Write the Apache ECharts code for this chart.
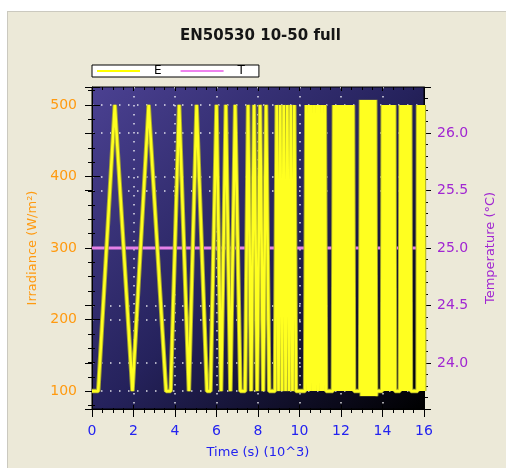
<!DOCTYPE html>
<html>
<head>
<meta charset="utf-8">
<script src="https://cdn.jsdelivr.net/npm/echarts@6/dist/echarts.min.js"></script>
<style>
  html, body { margin: 0; padding: 0; background: #fff; }
  #frame {
    position: absolute; left: 7px; top: 11px; width: 499px; height: 457px;
    background: #ece9d8; border-left: 1px solid #cbc9bf; border-top: 1px solid #cbc9bf;
    box-sizing: border-box;
  }
  #chart { position: absolute; left: 0; top: 0; width: 506px; height: 468px; }
</style>
</head>
<body>
<div id="frame"></div>
<div id="chart"></div>
<script>
// irradiance E (W/m²) turning points [time 10^3 s, value]
const irradiance = [
  // 0.5 W/m²/s
  [0, 100], [0.30, 100], [1.10, 500], [1.95, 100], [2.73, 500], [3.57, 100], [3.79, 100],
  // 1 W/m²/s
  [4.20, 500], [4.67, 100], [5.04, 500], [5.54, 100], [5.71, 100],
  // 2 W/m²/s
  [6.00, 500], [6.22, 100], [6.45, 500], [6.67, 100], [6.90, 500], [7.15, 100], [7.38, 100],
  // 3 W/m²/s
  [7.52, 500], [7.67, 100], [7.81, 500], [7.96, 100], [8.10, 500], [8.25, 100], [8.39, 500], [8.54, 100], [8.82, 100],
  // 5 W/m²/s
  [8.90, 500], [8.99, 100], [9.07, 500], [9.16, 100], [9.24, 500], [9.33, 100], [9.41, 500], [9.50, 100],
  [9.58, 500], [9.66, 100], [9.75, 500], [9.83, 100], [10.27, 100],
  // 7 W/m²/s
  [10.33, 500], [10.40, 100], [10.46, 500], [10.52, 100], [10.58, 500], [10.65, 100], [10.71, 500], [10.77, 100],
  [10.84, 500], [10.90, 100], [10.96, 500], [11.03, 100], [11.09, 500], [11.15, 100], [11.22, 500], [11.28, 100], [11.61, 100],
  // 10 W/m²/s
  [11.66, 500], [11.71, 100], [11.76, 500], [11.81, 100], [11.87, 500], [11.92, 100], [11.97, 500], [12.02, 100],
  [12.07, 500], [12.12, 100], [12.17, 500], [12.22, 100], [12.27, 500], [12.32, 100], [12.38, 500], [12.43, 100],
  [12.48, 500], [12.53, 100], [12.58, 500], [12.63, 100], [12.92, 100],
  // 14 W/m²/s (overshoot)
  [12.96, 507], [13.00, 93], [13.04, 507], [13.08, 93], [13.11, 507], [13.15, 93], [13.19, 507], [13.23, 93],
  [13.27, 507], [13.31, 93], [13.34, 507], [13.38, 93], [13.42, 507], [13.46, 93], [13.50, 507], [13.54, 93],
  [13.58, 507], [13.61, 93], [13.65, 507], [13.69, 93], [13.71, 100], [13.98, 100],
  // 20 W/m²/s
  [14.01, 500], [14.04, 100], [14.07, 500], [14.10, 100], [14.14, 500], [14.17, 100], [14.20, 500], [14.23, 100],
  [14.26, 500], [14.29, 100], [14.32, 500], [14.35, 100], [14.38, 500], [14.41, 100], [14.44, 500], [14.48, 100],
  [14.51, 500], [14.54, 100], [14.57, 500], [14.60, 100], [14.84, 100],
  // 30 W/m²/s
  [14.87, 500], [14.89, 100], [14.92, 500], [14.95, 100], [14.97, 500], [15.00, 100], [15.02, 500], [15.05, 100],
  [15.08, 500], [15.10, 100], [15.13, 500], [15.16, 100], [15.18, 500], [15.21, 100], [15.24, 500], [15.26, 100],
  [15.29, 500], [15.32, 100], [15.34, 500], [15.37, 100], [15.69, 100],
  // 50 W/m²/s
  [15.71, 500], [15.72, 100], [15.74, 500], [15.76, 100], [15.78, 500], [15.80, 100], [15.81, 500], [15.83, 100],
  [15.85, 500], [15.87, 100], [15.89, 500], [15.90, 100], [15.92, 500], [15.94, 100], [15.96, 500], [15.98, 100],
  [15.99, 500], [16.01, 100]
];

// temperature T (°C)
const temperature = [[0, 25.0], [4, 25.0], [8, 25.0], [12, 25.0], [16, 25.0]];

const timeRange = [0, 16];
const irrRange = [75, 525];
const tempRange = [23.6, 26.4];

const FONT = 'DejaVu Sans';
const chart = echarts.init(document.getElementById('chart'));

const dotted = { color: 'rgba(255,255,255,0.85)', width: 1.5, type: [1.5, 7.5] };
const black = { color: '#000', width: 1 };

const option = {
  animation: false,
  backgroundColor: 'transparent',
  title: {
    text: 'EN50530 10-50 full',
    left: 180,
    top: 29,
    padding: 0,
    textStyle: { fontFamily: FONT, fontSize: 15, fontWeight: 'bold', color: '#151515' }
  },
  legend: {
    data: ['E', 'T'],
    left: 92,
    top: 65,
    padding: [0, 14, 0, 5],
    icon: 'rect',
    itemWidth: 43,
    itemHeight: 2,
    itemGap: 19,
    backgroundColor: '#fff',
    borderColor: '#000',
    borderWidth: 1,
    borderRadius: 0,
    textStyle: { fontFamily: FONT, fontSize: 12, lineHeight: 11, color: '#000', padding: [0, 0, 0, 9] }
  },
  grid: {
    left: 92, right: 82, top: 87, bottom: 59,
    show: true,
    borderColor: '#000',
    borderWidth: 1,
    backgroundColor: new echarts.graphic.LinearGradient(0, 0, 1, 1, [
      { offset: 0, color: '#4b4192' },
      { offset: 0.5, color: '#25225c' },
      { offset: 1, color: '#000000' }
    ])
  },
  xAxis: [
    {
      type: 'value', min: timeRange[0], max: timeRange[1], interval: 2, position: 'bottom',
      name: 'Time (s) (10^3)', nameLocation: 'middle', nameGap: 37,
      nameTextStyle: { fontFamily: FONT, fontSize: 13, color: '#2323f0' },
      axisLine: { show: true, onZero: false, lineStyle: black },
      axisTick: { show: true, length: 8, lineStyle: black },
      minorTick: { show: true, splitNumber: 4, length: 4, lineStyle: black },
      axisLabel: { color: '#2323f0', fontFamily: FONT, fontSize: 14, margin: 15 },
      splitLine: { show: true, showMinLine: false, showMaxLine: false, lineStyle: dotted }
    },
    {
      type: 'value', min: timeRange[0], max: timeRange[1], interval: 2, position: 'bottom',
      axisLine: { show: false },
      axisTick: { show: true, inside: true, length: 4, lineStyle: black },
      minorTick: { show: true, splitNumber: 4, length: 1, lineStyle: black },
      axisLabel: { show: false }, splitLine: { show: false }
    },
    {
      type: 'value', min: timeRange[0], max: timeRange[1], interval: 2, position: 'top',
      axisLine: { show: false },
      axisTick: { show: true, inside: true, length: 4, lineStyle: black },
      minorTick: { show: true, splitNumber: 4, length: 3, lineStyle: black },
      axisLabel: { show: false }, splitLine: { show: false }
    }
  ],
  yAxis: [
    {
      type: 'value', min: irrRange[0], max: irrRange[1], splitNumber: 5, position: 'left',
      name: 'Irradiance (W/m²)', nameLocation: 'middle', nameGap: 52,
      nameTextStyle: { fontFamily: FONT, fontSize: 13, color: '#ff9a10' },
      axisLine: { show: true, onZero: false, lineStyle: black },
      axisTick: { show: true, length: 7, lineStyle: black },
      minorTick: { show: true, splitNumber: 5, length: 4, lineStyle: black },
      axisLabel: { color: '#ff9a10', fontFamily: FONT, fontSize: 14, margin: 15, showMinLabel: false, showMaxLabel: false },
      splitLine: { show: true, showMinLine: false, showMaxLine: false, lineStyle: dotted }
    },
    {
      type: 'value', min: tempRange[0], max: tempRange[1], splitNumber: 5, position: 'right',
      name: 'Temperature (°C)', nameLocation: 'middle', nameGap: 60,
      nameTextStyle: { fontFamily: FONT, fontSize: 13, color: '#a126d2' },
      axisLine: { show: true, onZero: false, lineStyle: black },
      axisTick: { show: true, length: 7, lineStyle: black },
      minorTick: { show: true, splitNumber: 5, length: 4, lineStyle: black },
      axisLabel: {
        color: '#a126d2', fontFamily: FONT, fontSize: 14, margin: 13,
        showMinLabel: false, showMaxLabel: false,
        formatter: v => v.toFixed(1)
      },
      splitLine: { show: true, showMinLine: false, showMaxLine: false, lineStyle: dotted }
    },
    {
      type: 'value', min: irrRange[0], max: irrRange[1], splitNumber: 5, position: 'left',
      axisLine: { show: false },
      axisTick: { show: true, inside: true, length: 8, lineStyle: black },
      minorTick: { show: true, splitNumber: 5, length: 3, lineStyle: black },
      axisLabel: { show: false }, splitLine: { show: false }
    },
    {
      type: 'value', min: tempRange[0], max: tempRange[1], splitNumber: 5, position: 'right',
      axisLine: { show: false },
      axisTick: { show: true, inside: true, length: 7, lineStyle: black },
      minorTick: { show: false },
      axisLabel: { show: false }, splitLine: { show: false }
    }
  ],
  series: [
    {
      name: 'T', type: 'line', xAxisIndex: 0, yAxisIndex: 1,
      data: temperature, symbol: 'none', z: 2,
      lineStyle: { color: '#e681e6', width: 3 },
      itemStyle: { color: '#ee82ee' }
    },
    {
      name: 'E-halo', type: 'line', xAxisIndex: 0, yAxisIndex: 0,
      data: irradiance, symbol: 'none', z: 3, silent: true,
      lineStyle: { color: '#a5a530', width: 4.5 }
    },
    {
      name: 'E', type: 'line', xAxisIndex: 0, yAxisIndex: 0,
      data: irradiance, symbol: 'none', z: 4,
      lineStyle: { color: '#ffff20', width: 2.6 },
      itemStyle: { color: '#ffff00' }
    }
  ]
};

chart.setOption(option);
</script>
</body>
</html>
